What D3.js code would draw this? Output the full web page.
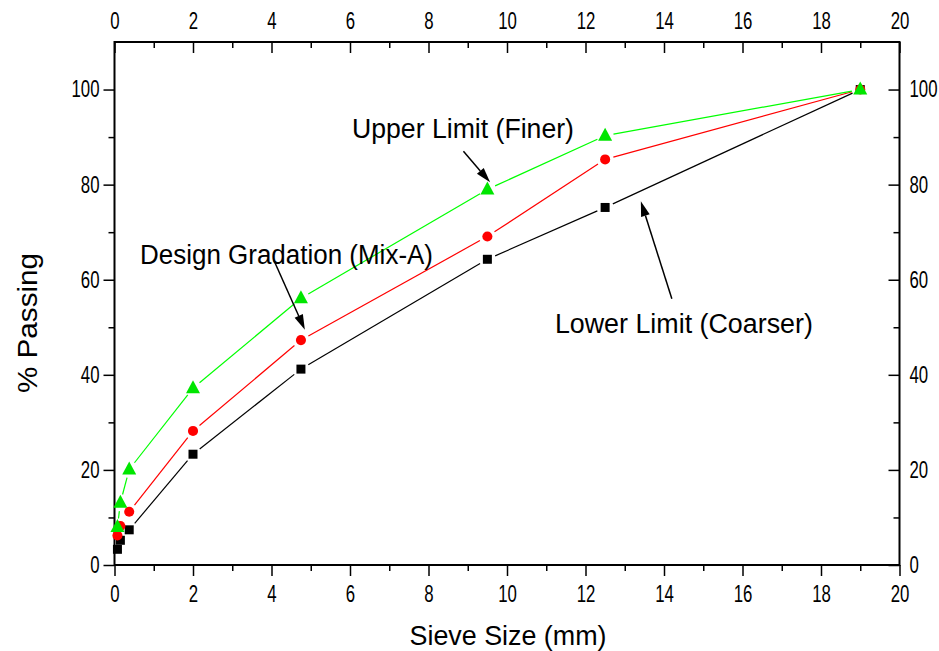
<!DOCTYPE html>
<html>
<head>
<meta charset="utf-8">
<script src="https://cdn.jsdelivr.net/npm/d3@7/dist/d3.min.js"></script>
<style>
  html, body { margin: 0; padding: 0; background: #fff; }
  svg { display: block; font-family: "Liberation Sans", Arial, sans-serif; }
</style>
</head>
<body>
<svg id="chart" width="939" height="651"></svg>
<script>
// Sieve sizes (mm) and percent passing for each gradation curve
const sieveSizes = [0.075, 0.15, 0.375, 2, 4.75, 9.5, 12.5, 19];
const lowerLimit = [3.3, 5.2, 7.4, 23.3, 41.2, 64.3, 75.2, 100];
const designMix  = [6.2, 8.2, 11.2, 28.2, 47.3, 69.1, 85.3, 100];
const upperLimit = [8.0, 13.1, 20.1, 37.2, 56.1, 79.0, 90.3, 100];

const xMajorTicks = [0, 2, 4, 6, 8, 10, 12, 14, 16, 18, 20];
const xMinorTicks = [1, 3, 5, 7, 9, 11, 13, 15, 17, 19];
const yMajorTicks = [0, 20, 40, 60, 80, 100];
const yMinorTicks = [10, 30, 50, 70, 90];

const series = [
  { name: "Lower Limit (Coarser)", values: lowerLimit, line: "#000000", fill: "#000000", shape: "square" },
  { name: "Design Gradation (Mix-A)", values: designMix, line: "#ff0000", fill: "#ff0000", shape: "circle" },
  { name: "Upper Limit (Finer)", values: upperLimit, line: "#00ff00", fill: "#00e600", shape: "triangle" }
];

// Callout labels with arrows, placed in data units
const callouts = [
  { text: "Upper Limit (Finer)", tx: 6.05, ty: 89.8, width: 222, from: [8.89, 87.0], to: [9.57, 80.5] },
  { text: "Design Gradation (Mix-A)", tx: 0.65, ty: 63.4, width: 293, from: [4.06, 64.1], to: [4.85, 49.5] },
  { text: "Lower Limit (Coarser)", tx: 11.22, ty: 48.7, width: 258, from: [14.2, 56.0], to: [13.41, 76.5] }
];

const svg = d3.select("#chart");
const plotLeft = 114.5, plotRight = 899.5, plotTop = 42, plotBottom = 565;

const x = d3.scaleLinear().domain([0, 20]).range([plotLeft, plotRight]);
const y = d3.scaleLinear().domain([0, 110]).range([plotBottom, plotTop]);

// Axes: tick labels use a horizontally condensed numeral style
const labelSqueeze = 0.73;
function styleAxis(g, withText) {
  g.select(".domain").remove();
  g.selectAll(".tick line").attr("stroke", "#000").attr("stroke-width", 1.5);
  if (withText) {
    g.selectAll(".tick text")
      .attr("fill", "#000")
      .style("font-size", "23px")
      .each(function () {
        const t = d3.select(this);
        const tx = +t.attr("x") || 0;
        t.attr("x", 0).attr("transform", `translate(${tx},0) scale(${labelSqueeze},1)`);
      });
  } else {
    g.selectAll(".tick text").remove();
  }
}

svg.append("g").attr("transform", `translate(0,${plotBottom})`)
  .call(d3.axisBottom(x).tickValues(xMajorTicks).tickSize(11).tickSizeOuter(0).tickPadding(10).tickFormat(d3.format("d")))
  .call(g => styleAxis(g, true));
svg.append("g").attr("transform", `translate(0,${plotBottom})`)
  .call(d3.axisBottom(x).tickValues(xMinorTicks).tickSize(6).tickSizeOuter(0))
  .call(g => styleAxis(g, false));

svg.append("g").attr("transform", `translate(0,${plotTop})`)
  .call(d3.axisTop(x).tickValues(xMajorTicks).tickSize(-11).tickSizeOuter(0).tickPadding(13).tickFormat(d3.format("d")))
  .call(g => styleAxis(g, true));
svg.append("g").attr("transform", `translate(0,${plotTop})`)
  .call(d3.axisTop(x).tickValues(xMinorTicks).tickSize(-6).tickSizeOuter(0))
  .call(g => styleAxis(g, false));

svg.append("g").attr("transform", `translate(${plotLeft},0)`)
  .call(d3.axisLeft(y).tickValues(yMajorTicks).tickSize(11).tickSizeOuter(0).tickPadding(4).tickFormat(d3.format("d")))
  .call(g => styleAxis(g, true));
svg.append("g").attr("transform", `translate(${plotLeft},0)`)
  .call(d3.axisLeft(y).tickValues(yMinorTicks).tickSize(6).tickSizeOuter(0))
  .call(g => styleAxis(g, false));

svg.append("g").attr("transform", `translate(${plotRight},0)`)
  .call(d3.axisRight(y).tickValues(yMajorTicks).tickSize(-11).tickSizeOuter(0).tickPadding(10).tickFormat(d3.format("d")))
  .call(g => styleAxis(g, true));
svg.append("g").attr("transform", `translate(${plotRight},0)`)
  .call(d3.axisRight(y).tickValues(yMinorTicks).tickSize(-6).tickSizeOuter(0))
  .call(g => styleAxis(g, false));

// Plot frame
svg.append("rect")
  .attr("x", plotLeft).attr("y", plotTop)
  .attr("width", plotRight - plotLeft).attr("height", plotBottom - plotTop)
  .attr("fill", "none").attr("stroke", "#000").attr("stroke-width", 2);

// Axis titles
svg.append("text")
  .attr("x", (plotLeft + plotRight) / 2 + 1).attr("y", 645)
  .attr("text-anchor", "middle")
  .style("font-size", "27px")
  .attr("lengthAdjust", "spacingAndGlyphs")
  .attr("textLength", 197)
  .text("Sieve Size (mm)");

svg.append("text")
  .attr("transform", "translate(37,323) rotate(-90)")
  .attr("text-anchor", "middle")
  .style("font-size", "27px")
  .attr("lengthAdjust", "spacingAndGlyphs")
  .attr("textLength", 140)
  .text("% Passing");

// Curves: segments stop short of each marker, leaving a small gap
const gap = 8.5;
const plot = svg.append("g");

function markerPath(shape) {
  if (shape === "triangle") return "M0,-8 L7,5 L-7,5 Z";
  if (shape === "circle") return d3.symbol(d3.symbolCircle, 80)();
  return "M-4.5,-4.5 H4.5 V4.5 H-4.5 Z";
}

series.forEach(s => {
  const pts = sieveSizes.map((d, i) => [x(d), y(s.values[i])]);
  const g = plot.append("g");
  for (let i = 0; i < pts.length - 1; i++) {
    const [x1, y1] = pts[i], [x2, y2] = pts[i + 1];
    const dx = x2 - x1, dy = y2 - y1, len = Math.hypot(dx, dy);
    if (len <= 2 * gap + 1) continue;
    const ux = dx / len, uy = dy / len;
    g.append("line")
      .attr("x1", x1 + ux * gap).attr("y1", y1 + uy * gap)
      .attr("x2", x2 - ux * gap).attr("y2", y2 - uy * gap)
      .attr("stroke", s.line).attr("stroke-width", 1.2);
  }
  g.selectAll("path.marker")
    .data(pts)
    .join("path")
    .attr("class", "marker")
    .attr("transform", d => `translate(${d[0]},${d[1]})`)
    .attr("d", markerPath(s.shape))
    .attr("fill", s.fill);
});

// Callouts
const notes = svg.append("g");
callouts.forEach(c => {
  notes.append("text")
    .attr("x", x(c.tx)).attr("y", y(c.ty))
    .style("font-size", "27px")
    .attr("lengthAdjust", "spacingAndGlyphs")
    .attr("textLength", c.width)
    .text(c.text);
  const x1 = x(c.from[0]), y1 = y(c.from[1]);
  const x2 = x(c.to[0]), y2 = y(c.to[1]);
  const ang = Math.atan2(y2 - y1, x2 - x1);
  const headLen = 15, headHalf = 4.5;
  const bx = x2 - Math.cos(ang) * headLen, by = y2 - Math.sin(ang) * headLen;
  notes.append("line")
    .attr("x1", x1).attr("y1", y1).attr("x2", bx).attr("y2", by)
    .attr("stroke", "#000").attr("stroke-width", 1.5);
  const px = -Math.sin(ang), py = Math.cos(ang);
  notes.append("path")
    .attr("d", `M${x2},${y2} L${bx + px * headHalf},${by + py * headHalf} L${bx - px * headHalf},${by - py * headHalf} Z`)
    .attr("fill", "#000");
});
</script>
</body>
</html>
